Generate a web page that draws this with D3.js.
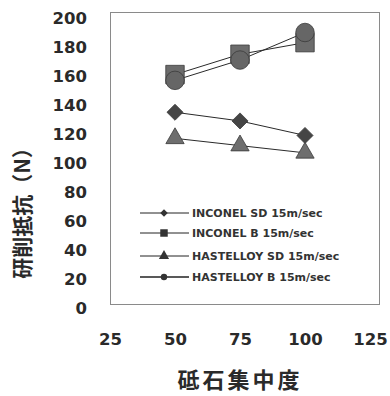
<!DOCTYPE html>
<html><head><meta charset="utf-8">
<script src="https://cdn.jsdelivr.net/npm/d3@7"></script>
<style>body{margin:0;background:#fff}svg{display:block}</style>
</head><body>
<svg id="c" width="390" height="396"></svg>
<script>
const concentrations = [50, 75, 100];
const seriesNames = ["INCONEL SD 15m/sec", "INCONEL B 15m/sec", "HASTELLOY SD 15m/sec", "HASTELLOY B 15m/sec"];
const inconelSD = [135, 129, 119];
const inconelB = [161, 175, 183];
const hastelloySD = [117, 112, 107];
const hastelloyB = [157, 171, 190];
const xTicks = [25, 50, 75, 100, 125];
const yTicks = [0, 20, 40, 60, 80, 100, 120, 140, 160, 180, 200];
const xTitle = "砥石集中度";
const yTitle = "研削抵抗（N）";

const series = [
  {name: seriesNames[0], values: inconelSD, shape: d3.symbolDiamond2, size: 165, lsize: 36, fill: "#454545"},
  {name: seriesNames[1], values: inconelB, shape: d3.symbolSquare, size: 340, lsize: 56, fill: "#6c6c6c"},
  {name: seriesNames[2], values: hastelloySD, shape: d3.symbolTriangle, size: 145, lsize: 45, fill: "#6e6e6e"},
  {name: seriesNames[3], values: hastelloyB, shape: d3.symbolCircle, size: 270, lsize: 32, fill: "#666"}
];

const svg = d3.select("#c");
const x = d3.scaleLinear().domain([25, 125]).range([110, 370]);
const y = d3.scaleLinear().domain([0, 200]).range([308, 18]);

// plot frame
svg.append("rect").attr("x", 110.5).attr("y", 12.5).attr("width", 269).attr("height", 292)
  .attr("fill", "none").attr("stroke", "#8a8a8a").attr("stroke-width", 1);

// y axis labels
const yAxis = d3.axisLeft(y).tickValues(yTicks).tickSize(0).tickPadding(0);
const gy = svg.append("g").attr("transform", "translate(87,0)").call(yAxis);
gy.select(".domain").remove();
gy.selectAll("text").attr("font-family", "DejaVu Sans").attr("font-weight", "bold")
  .attr("font-size", 16.5).attr("fill", "#2a2a2a");

// x axis labels
const xAxis = d3.axisBottom(x).tickValues(xTicks).tickSize(0).tickPadding(0);
const gx = svg.append("g").attr("transform", "translate(0,333)").call(xAxis);
gx.select(".domain").remove();
gx.selectAll("text").attr("font-family", "DejaVu Sans").attr("font-weight", "bold")
  .attr("font-size", 16.5).attr("fill", "#2a2a2a");

// titles
svg.append("text").attr("x", 240).attr("y", 388).attr("text-anchor", "middle")
  .attr("font-family", "Noto Sans CJK JP").attr("font-size", 22).attr("font-weight", 700)
  .attr("letter-spacing", 3).attr("fill", "#2a2a2a").text(xTitle);
svg.append("text").attr("transform", "translate(30,208) rotate(-90)").attr("text-anchor", "middle")
  .attr("font-family", "Noto Sans CJK JP").attr("font-size", 21).attr("font-weight", 700)
  .attr("fill", "#2a2a2a").text(yTitle);

// lines
const line = d3.line().x((d, i) => x(concentrations[i])).y(d => y(d));
series.forEach(s => {
  svg.append("path").attr("d", line(s.values)).attr("fill", "none")
    .attr("stroke", "#2a2a2a").attr("stroke-width", 1);
});
// markers
series.forEach(s => {
  svg.append("g").selectAll("path").data(s.values).join("path")
    .attr("transform", (d, i) => `translate(${x(concentrations[i])},${y(d)})`)
    .attr("d", d3.symbol().type(s.shape).size(s.size))
    .attr("fill", s.fill).attr("stroke", "#3a3a3a").attr("stroke-width", 0.8);
});

// legend
const legY = [213, 233, 256, 277];
const lg = svg.append("g");
series.forEach((s, i) => {
  const g = lg.append("g").attr("transform", `translate(0,${legY[i]})`);
  g.append("line").attr("x1", 140).attr("x2", 189).attr("y1", 0).attr("y2", 0)
    .attr("stroke", "#222").attr("stroke-width", i === 3 ? 1.6 : 1);
  g.append("path").attr("transform", "translate(164,0)")
    .attr("d", d3.symbol().type(s.shape).size(s.lsize)).attr("fill", "#333");
  g.append("text").attr("x", 192).attr("y", 4).attr("font-family", "DejaVu Sans")
    .attr("font-weight", "bold").attr("font-size", 11).attr("fill", "#333").text(s.name);
});
</script>
</body></html>
